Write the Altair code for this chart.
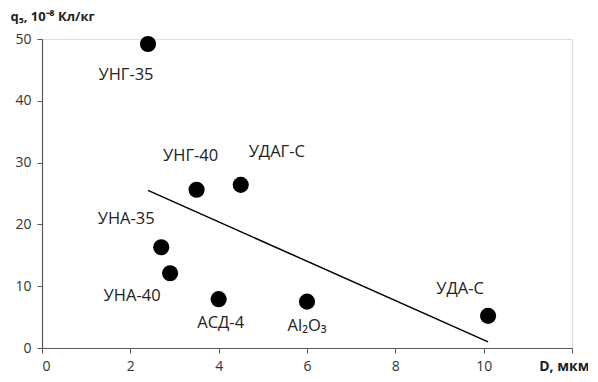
import altair as alt
import pandas as pd

materials = ["УНГ-35", "УНГ-40", "УДАГ-С", "УНА-35", "УНА-40", "АСД-4", "Al₂O₃", "УДА-С"]
d_values = [2.4, 3.5, 4.5, 2.7, 2.9, 4.0, 6.0, 10.1]
q_values = [49.2, 25.6, 26.4, 16.3, 12.1, 7.9, 7.5, 5.2]

trend_x = [2.4, 10.1]
trend_y = [25.5, 1.0]

x_ticks = [0, 2, 4, 6, 8, 10, 12]
y_ticks = [0, 10, 20, 30, 40, 50]

# label offsets in pixels (style)
label_offsets = {
    "УНГ-35": (-22, 31),
    "УНГ-40": (-6, -34),
    "УДАГ-С": (36, -33),
    "УНА-35": (-35, -28),
    "УНА-40": (-38, 23),
    "АСД-4": (2, 24),
    "Al₂O₃": (0, 24),
    "УДА-С": (-28, -27),
}

df = pd.DataFrame({"material": materials, "D": d_values, "q": q_values})
trend = pd.DataFrame({"D": trend_x, "q": trend_y})

FONT = "Open Sans"
AX = "#595959"

xscale = alt.Scale(domain=[0, 12], nice=False, zero=False)
yscale = alt.Scale(domain=[0, 50], nice=False)

xaxis = alt.Axis(
    values=x_ticks, labelExpr="datum.value == 12 ? '' : datum.label",
    grid=False, domainColor=AX, tickColor=AX, tickSize=5, labelFont=FONT,
    labelFontSize=14, labelColor="#333333", labelPadding=6,
    title="D, мкм", titleFont=FONT, titleFontSize=14, titleFontWeight="bold",
    titleColor="#222222", titleAngle=0, titleAlign="right", titleBaseline="middle",
    titleX=547, titleY=18, domainWidth=1.2,
)
yaxis = alt.Axis(
    values=y_ticks, grid=False, domainColor=AX, tickColor=AX, tickSize=5,
    labelFont=FONT, labelFontSize=14, labelColor="#333333", labelPadding=6,
    title="q₅, 10⁻⁸ Кл/кг", titleFont=FONT, titleFontSize=13, titleFontWeight="bold",
    titleColor="#222222", titleAngle=0, titleAlign="left", titleBaseline="middle",
    titleX=-32, titleY=-23, domainWidth=1.2,
)

points = alt.Chart(df).mark_circle(size=260, color="black", opacity=1).encode(
    x=alt.X("D:Q", scale=xscale, axis=xaxis),
    y=alt.Y("q:Q", scale=yscale, axis=yaxis),
)

line = alt.Chart(trend).mark_line(color="black", strokeWidth=1.5).encode(
    x=alt.X("D:Q", scale=xscale),
    y=alt.Y("q:Q", scale=yscale),
)

label_layers = []
for name, (dx, dy) in label_offsets.items():
    label_layers.append(
        alt.Chart(df).transform_filter(alt.datum.material == name)
        .mark_text(font=FONT, fontSize=16.5, color="#222222", dx=dx, dy=dy,
                   align="center", baseline="middle")
        .encode(x=alt.X("D:Q", scale=xscale), y=alt.Y("q:Q", scale=yscale),
                text="material:N")
    )

chart = alt.layer(line, points, *label_layers).properties(
    width=530, height=309,
    autosize=alt.AutoSizeParams(type="none"),
    padding={"left": 34, "top": 31, "right": 16, "bottom": 26},
).configure_view(stroke=None).configure(background="white")

chart.save("out.html", embed_options={"renderer": "svg", "actions": False})
